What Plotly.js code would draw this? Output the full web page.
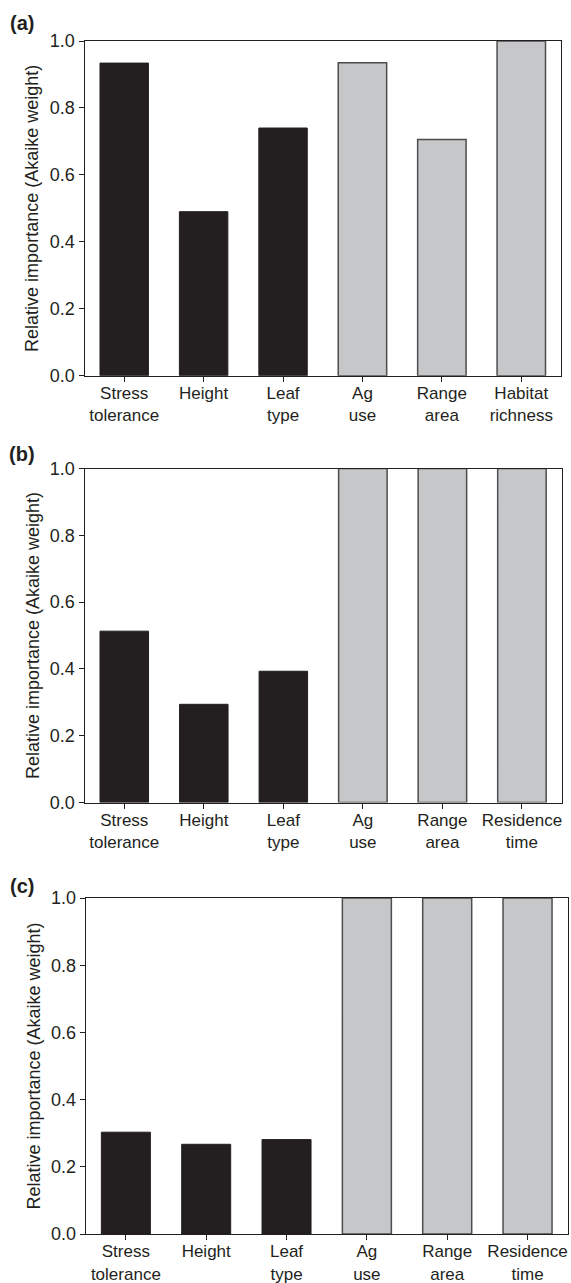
<!DOCTYPE html>
<html>
<head>
<meta charset="utf-8">
<script src="https://cdn.plot.ly/plotly-3.0.1.min.js"></script>
<style>
  html, body { margin: 0; padding: 0; background: #ffffff; }
  #chart { width: 571px; height: 1283px; }
</style>
</head>
<body>
<div id="chart"></div>
<script>
// ---- Data ----
var traitCategories = ["Stress<br>tolerance", "Height", "Leaf<br>type"];
var otherCategoriesA = ["Ag<br>use", "Range<br>area", "Habitat<br>richness"];
var otherCategoriesBC = ["Ag<br>use", "Range<br>area", "Residence<br>time"];

var traitValuesA = [0.934, 0.490, 0.740];
var otherValuesA = [0.935, 0.706, 1.000];

var traitValuesB = [0.513, 0.294, 0.393];
var otherValuesB = [1.000, 1.000, 1.000];

var traitValuesC = [0.303, 0.267, 0.281];
var otherValuesC = [1.000, 1.000, 1.000];

var yTickValues = [0, 0.2, 0.4, 0.6, 0.8, 1.0];
var panelLabels = ["(a)", "(b)", "(c)"];
var yTitle = "Relative importance (Akaike weight)";

// ---- Styles ----
var W = 571, H = 1283;
var dark = "#231f20";
var grey = "#c6c7c9";
var greyEdge = "#4d4d4d";
var fontFam = "Liberation Sans, Arial, Helvetica, sans-serif";
var fs = 18;
var fsx = 17;
var barWidth = 0.61;

function px(x) { return x / W; }
function py(y) { return 1 - y / H; }

var panels = [
  { traits: traitValuesA, others: otherValuesA, otherCats: otherCategoriesA,
    xd: [px(84.5), px(561)], yd: [py(375.7), py(41)], label: [22, 22.5] },
  { traits: traitValuesB, others: otherValuesB, otherCats: otherCategoriesBC,
    xd: [px(84.5), px(561.7)], yd: [py(802.5), py(468.5)], label: [22, 454] },
  { traits: traitValuesC, others: otherValuesC, otherCats: otherCategoriesBC,
    xd: [px(85.7), px(567.7)], yd: [py(1234), py(898)], label: [22, 886] }
];

var data = [];
var layout = {
  width: W, height: H,
  margin: { l: 0, r: 0, t: 0, b: 0, pad: 0 },
  paper_bgcolor: "#ffffff",
  plot_bgcolor: "#ffffff",
  showlegend: false,
  barmode: "overlay",
  font: { family: fontFam, size: fs, color: dark },
  annotations: []
};

panels.forEach(function (p, i) {
  var n = i === 0 ? "" : String(i + 1);
  var xa = "x" + n, ya = "y" + n;
  var allCats = traitCategories.concat(p.otherCats);

  data.push({
    type: "bar", x: traitCategories, y: p.traits,
    xaxis: xa, yaxis: ya, width: barWidth,
    marker: { color: dark, line: { color: dark, width: 1 } },
    hoverinfo: "x+y"
  });
  data.push({
    type: "bar", x: p.otherCats, y: p.others,
    xaxis: xa, yaxis: ya, width: barWidth,
    marker: { color: grey, line: { color: greyEdge, width: 1.5 } },
    hoverinfo: "x+y"
  });

  layout["xaxis" + n] = {
    domain: p.xd, anchor: ya,
    type: "category",
    categoryorder: "array", categoryarray: allCats,
    range: [-0.5, 5.5],
    showline: true, mirror: true, linecolor: dark, linewidth: 1,
    ticks: "outside", ticklen: 5, tickwidth: 1, tickcolor: dark,
    ticklabelstandoff: -3,
    showgrid: false, zeroline: false, fixedrange: true,
    tickfont: { family: fontFam, size: fsx, color: dark },
    automargin: false
  };
  layout["yaxis" + n] = {
    domain: p.yd, anchor: xa,
    range: [0, 1],
    tickvals: yTickValues, tickformat: ".1f",
    showline: true, mirror: true, linecolor: dark, linewidth: 1,
    ticks: "outside", ticklen: 5, tickwidth: 1, tickcolor: dark,
    showgrid: false, zeroline: false, fixedrange: true,
    tickfont: { family: fontFam, size: fs, color: dark },
    title: { text: yTitle, font: { family: fontFam, size: fs, color: dark } },
    automargin: false
  };

  layout.annotations.push({
    xref: "paper", yref: "paper",
    x: px(p.label[0]), y: py(p.label[1]),
    xanchor: "center", yanchor: "middle",
    text: "<b>" + panelLabels[i] + "</b>",
    showarrow: false,
    font: { family: fontFam, size: 20, color: dark }
  });
});

Plotly.newPlot("chart", data, layout, { displayModeBar: false, staticPlot: true });
</script>
</body>
</html>
